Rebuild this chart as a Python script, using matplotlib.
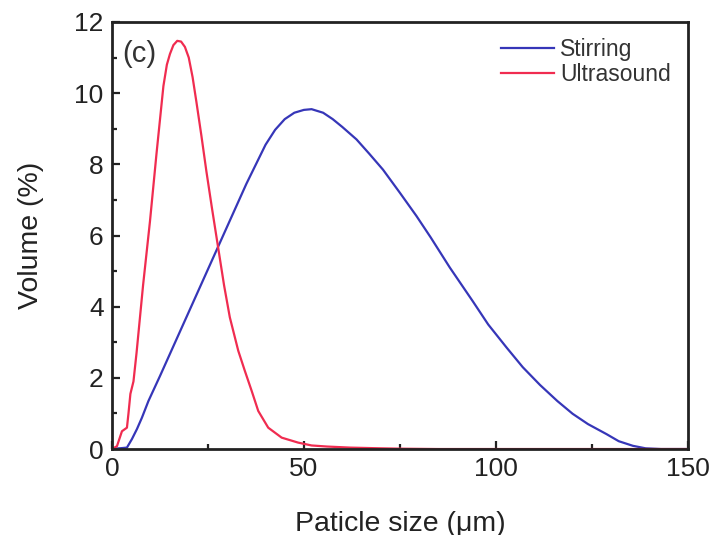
import matplotlib
matplotlib.use("Agg")
import matplotlib.pyplot as plt
from matplotlib.ticker import MultipleLocator

plt.rcParams['font.family'] = ['Liberation Sans', 'DejaVu Sans']

# Stirring series
stir_x = [0, 3.9, 5.2, 6.5, 7.8, 9.5, 12.5, 15, 17.5, 20, 22.5, 25, 27.5, 30, 32.5,
          35, 37.5, 40, 42.5, 45, 47.5, 50, 52, 55, 57.5, 60, 63.7, 67, 70.6, 75,
          79.3, 83, 88, 94, 98, 102.8, 107, 111.5, 116, 120, 124, 128.8, 132,
          135.7, 139, 143, 150]
stir_y = [0, 0.04, 0.28, 0.56, 0.88, 1.35, 2.05, 2.65, 3.25, 3.85, 4.45, 5.05, 5.65,
          6.25, 6.85, 7.45, 8.0, 8.55, 8.97, 9.27, 9.45, 9.53, 9.55, 9.45, 9.27,
          9.05, 8.7, 8.3, 7.85, 7.2, 6.55, 5.95, 5.1, 4.15, 3.5, 2.85, 2.3, 1.8,
          1.35, 0.99, 0.7, 0.42, 0.22, 0.09, 0.02, 0, 0]

# Ultrasound series
ultra_x = [0, 1.3, 2.6, 3.9, 4.3, 4.8, 5.6, 6.4, 8.1, 9.9, 11.6, 13.4, 14.3, 15.1,
           16.0, 17.0, 18.0, 19.0, 20.0, 21.0, 22.0, 23.3, 24.6, 26, 27.6, 29.2,
           30.7, 32.9, 34.6, 36.4, 38.1, 40.7, 44.2, 48.5, 52, 56, 62, 70, 75, 85,
           150]
ultra_y = [0, 0.08, 0.5, 0.6, 1.0, 1.55, 1.9, 2.7, 4.6, 6.4, 8.3, 10.2, 10.8, 11.1,
           11.35, 11.47, 11.45, 11.3, 11.0, 10.45, 9.75, 8.8, 7.8, 6.8, 5.7, 4.6,
           3.7, 2.76, 2.2, 1.63, 1.07, 0.6, 0.32, 0.18, 0.1, 0.07, 0.04, 0.02,
           0.01, 0, 0]

x_ticks = [0, 50, 100, 150]
y_ticks = [0, 2, 4, 6, 8, 10, 12]

fig = plt.figure(figsize=(7.15, 5.35), dpi=100)
ax = fig.add_axes([0.1566, 0.1607, 0.8054, 0.7982])

ax.plot(stir_x, stir_y, color='#3636b8', lw=1.6, label='Stirring')
ax.plot(ultra_x, ultra_y, color='#f02c50', lw=1.6, label='Ultrasound')

ax.set_xlim(0, 150)
ax.set_ylim(0, 12)
ax.set_xticks(x_ticks)
ax.set_yticks(y_ticks)
ax.xaxis.set_minor_locator(MultipleLocator(25))
ax.yaxis.set_minor_locator(MultipleLocator(1))
ax.tick_params(which='both', direction='in', top=False, right=False,
               labelsize=19, width=1.6, colors='#222222')
ax.tick_params(which='major', length=6, pad=6)
ax.tick_params(which='minor', length=3.5)
for s in ax.spines.values():
    s.set_linewidth(2.0)
    s.set_color('#222222')

ax.set_xlabel('Paticle size (μm)', fontsize=20.5, color='#222222', labelpad=21)
ax.set_ylabel('Volume (%)', fontsize=20.5, color='#222222', labelpad=22)

ax.text(0.018, 0.958, '(c)', transform=ax.transAxes, fontsize=21,
        color='#333333', va='top', ha='left')

leg = ax.legend(loc='upper right', bbox_to_anchor=(0.995, 0.995), frameon=False,
                fontsize=16.5, handlelength=2.3, handletextpad=0.3,
                labelspacing=0.1, borderaxespad=0.2)
for t in leg.get_texts():
    t.set_color('#333333')

fig.savefig('out.png', dpi=100)
